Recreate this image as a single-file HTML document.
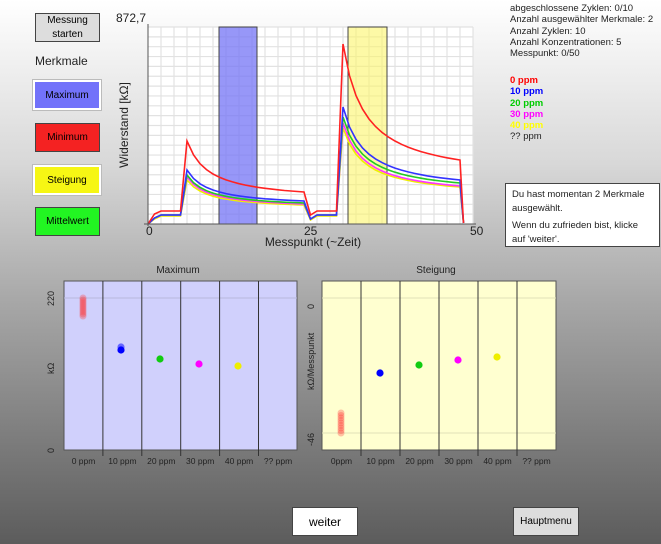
<!DOCTYPE html>
<html><head><meta charset="utf-8"><style>
body{margin:0;width:661px;height:544px;overflow:hidden;font-family:"Liberation Sans","DejaVu Sans",sans-serif;background:linear-gradient(#ffffff 0%,#d8d8d8 30%,#a8a8a8 55%,#5c5c5c 100%);position:relative}
.a{position:absolute}
.btn{position:absolute;display:flex;align-items:center;justify-content:center;text-align:center;font-size:10px;border:1px solid #444;box-sizing:border-box}
</style></head><body>
<div class="btn" style="left:35px;top:13px;width:65px;height:29px;background:#ddd;line-height:14px;font-size:10px">Messung<br>starten</div>
<div class="a" style="left:35px;top:54px;font-size:12px;color:#222">Merkmale</div>
<div class="btn" style="left:33px;top:80px;width:68px;height:30px;background:#7272fa;border:2px solid #fff;outline:1px solid #bbb">Maximum</div>
<div class="btn" style="left:35px;top:123px;width:65px;height:29px;background:#f42222">Minimum</div>
<div class="btn" style="left:33px;top:165px;width:68px;height:30px;background:#f6f614;border:2px solid #fff;outline:1px solid #bbb">Steigung</div>
<div class="btn" style="left:35px;top:207px;width:65px;height:29px;background:#22f522">Mittelwert</div>

<div class="a" style="left:510px;top:3px;font-size:9.5px;line-height:11.3px;color:#222">abgeschlossene Zyklen: 0/10<br>Anzahl ausgewählter Merkmale: 2<br>Anzahl Zyklen: 10<br>Anzahl Konzentrationen: 5<br>Messpunkt: 0/50</div>
<div class="a" style="left:510px;top:75px;font-size:9.5px;line-height:11.3px;font-weight:bold"><span style="color:#f00">0 ppm</span><br><span style="color:#00f">10 ppm</span><br><span style="color:#0c0">20 ppm</span><br><span style="color:#f0f">30 ppm</span><br><span style="color:#ff0">40 ppm</span><br><span style="color:#222;font-weight:normal">?? ppm</span></div>
<div class="a" style="left:505px;top:183px;width:155px;height:64px;background:#fff;border:1px solid #444;box-sizing:border-box;font-size:9.5px;line-height:14px;padding:4px 6px;color:#222">Du hast momentan 2 Merkmale ausgewählt.<div style="margin-top:3px">Wenn du zufrieden bist, klicke auf 'weiter'.</div></div>

<svg class="a" style="left:0;top:0" width="661" height="544" id="s">
<rect x="148" y="27" width="325" height="197" fill="#fff"/>
<g id="grid" stroke="#e2e2e2" stroke-width="1.2"></g>
<rect x="219" y="27" width="38" height="197" fill="#7474f6" fill-opacity="0.75" stroke="#444"/>
<rect x="348" y="27" width="39" height="197" fill="#fbf56a" fill-opacity="0.6" stroke="#444"/>
<g id="lines" fill="none" stroke-width="1.6"></g>
<line x1="148" y1="24" x2="148" y2="226" stroke="#555"/>
<line x1="144" y1="224" x2="476" y2="224" stroke="#555"/>
<text x="116" y="22" font-size="12" fill="#222">872,7</text>
<text x="146" y="235" font-size="12" fill="#222">0</text>
<text x="304" y="235" font-size="12" fill="#222">25</text>
<text x="470" y="235" font-size="12" fill="#222">50</text>
<text x="313" y="246" font-size="12" fill="#222" text-anchor="middle">Messpunkt (~Zeit)</text>
<text transform="translate(128,125) rotate(-90)" font-size="12" fill="#222" text-anchor="middle">Widerstand [kΩ]</text>

<text x="178" y="273" font-size="10" fill="#222" text-anchor="middle">Maximum</text>
<rect x="64" y="281" width="233" height="169" fill="#d0d0fc" stroke="#555"/>
<line x1="64" y1="298" x2="297" y2="298" stroke="#b8b8dc"/>
<text x="436" y="273" font-size="10" fill="#222" text-anchor="middle">Steigung</text>
<rect x="322" y="281" width="234" height="169" fill="#ffffd0" stroke="#555"/>
<line x1="322" y1="298" x2="556" y2="298" stroke="#e0e0b8"/>
<line x1="322" y1="433" x2="556" y2="433" stroke="#e0e0b8"/>
<g id="div" stroke="#333" stroke-width="1"></g>
<g font-size="8.5" fill="#222" text-anchor="middle" id="lab"></g>
<text transform="translate(54,306) rotate(-90)" font-size="9" fill="#222">220</text>
<text transform="translate(54,453) rotate(-90)" font-size="9" fill="#222">0</text>
<text transform="translate(54,374) rotate(-90)" font-size="9" fill="#222">kΩ</text>
<text transform="translate(314,309) rotate(-90)" font-size="9" fill="#222">0</text>
<text transform="translate(314,446) rotate(-90)" font-size="9" fill="#222">-46</text>
<text transform="translate(314,390) rotate(-90)" font-size="9" fill="#222">kΩ/Messpunkt</text>
<g id="dots"></g>
</svg>
<div class="btn" style="left:292px;top:507px;width:66px;height:29px;background:#fff;font-size:12px">weiter</div>
<div class="btn" style="left:513px;top:507px;width:66px;height:29px;background:#ddd;font-size:10px">Hauptmenu</div>
<script>
var NS="http://www.w3.org/2000/svg";
function el(p,t,a){var e=document.createElementNS(NS,t);for(var k in a)e.setAttribute(k,a[k]);document.getElementById(p).appendChild(e);return e;}
for(var i=1;i<=25;i++){var x=148+i*13;el("grid","line",{x1:x,y1:27,x2:x,y2:224});}
for(var j=0;j<20;j++){var y=27+j*9.85;el("grid","line",{x1:148,y1:y,x2:473,y2:y});}
function g(k){return (1/(1+0.3*k)-1/6.4)/(1-1/6.4);}
var S=[["#f22",83,32,180,64,13],["#33f",54,23,117,44,9],["#2c2",49,21,107,41,9],["#f3f",47,20,101,38,9],["#ee0",44,19,96,37,8]];
for(var s=S.length-1;s>=0;s--){var c=S[s],pts=[];
 for(var p=0;p<50;p++){var h;
  if(p==0)h=0;else if(p<6)h=(p==1?c[5]-3:c[5]);
  else if(p<=24)h=c[2]+(c[1]-c[2])*g(p-6);
  else if(p<30)h=(p==25?c[5]-4:c[5]);
  else if(p<=48)h=c[4]+(c[3]-c[4])*g(p-30);
  else h=1;
  pts.push((148+p*6.5+(p==49?-3:0)).toFixed(1)+","+(224-h).toFixed(1));}
 el("lines","polyline",{points:pts.join(" "),stroke:c[0]});}
var labsA=["0 ppm","10 ppm","20 ppm","30 ppm","40 ppm","?? ppm"],labsB=["0ppm","10 ppm","20 ppm","30 ppm","40 ppm","?? ppm"];
for(var i=0;i<6;i++){
 var xa=64+i*38.9,xb=322+i*39;
 if(i>0){el("div","line",{x1:xa,y1:281,x2:xa,y2:456});el("div","line",{x1:xb,y1:281,x2:xb,y2:456});}
 el("lab","text",{x:xa+19.5,y:464}).textContent=labsA[i];
 el("lab","text",{x:xb+19.5,y:464}).textContent=labsB[i];}
for(var y=298;y<=316;y+=2)el("dots","circle",{cx:83,cy:y,r:3.5,fill:"#f33","fill-opacity":0.3});
for(var y=413;y<=433;y+=2.5)el("dots","circle",{cx:341,cy:y,r:3.5,fill:"#f33","fill-opacity":0.3});
var D=[[121,347,"#66f"],[121,350,"#00f"],[160,359,"#1c1"],[199,364,"#f0f"],[238,366,"#ee0"],[380,373,"#00f"],[419,365,"#1c1"],[458,360,"#f0f"],[497,357,"#ee0"]];
D.forEach(function(d){el("dots","circle",{cx:d[0],cy:d[1],r:3.6,fill:d[2]});});
</script>
</body></html>
